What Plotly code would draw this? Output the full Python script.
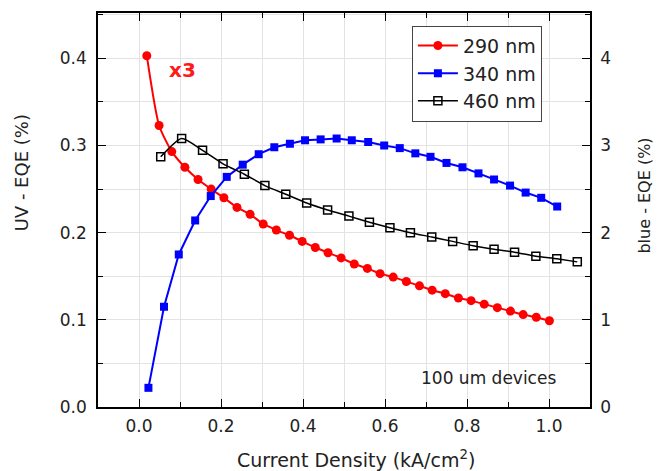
import plotly.graph_objects as go

# Current density (kA/cm^2) and EQE data for each emission line
j_290 = [0.019, 0.049, 0.080, 0.112, 0.144, 0.176, 0.207, 0.239, 0.271, 0.303,
         0.335, 0.367, 0.398, 0.430, 0.461, 0.493, 0.525, 0.557, 0.588, 0.620,
         0.652, 0.684, 0.715, 0.747, 0.779, 0.810, 0.842, 0.874, 0.906, 0.937,
         0.969, 1.001]
eqe_290 = [0.403, 0.323, 0.293, 0.275, 0.261, 0.250, 0.240, 0.229, 0.221, 0.210,
           0.203, 0.197, 0.190, 0.183, 0.177, 0.171, 0.164, 0.159, 0.153, 0.149,
           0.144, 0.139, 0.134, 0.130, 0.125, 0.122, 0.118, 0.114, 0.110, 0.106,
           0.103, 0.099]

j_340 = [0.023, 0.061, 0.097, 0.137, 0.175, 0.214, 0.253, 0.292, 0.330, 0.368,
         0.405, 0.443, 0.482, 0.519, 0.559, 0.598, 0.636, 0.674, 0.711, 0.750,
         0.789, 0.828, 0.866, 0.905, 0.943, 0.981, 1.020]
eqe_340 = [0.022, 0.115, 0.175, 0.214, 0.242, 0.264, 0.278, 0.290, 0.298, 0.302,
           0.306, 0.307, 0.308, 0.306, 0.304, 0.300, 0.297, 0.291, 0.287, 0.280,
           0.275, 0.268, 0.261, 0.254, 0.246, 0.240, 0.230]

j_460 = [0.053, 0.104, 0.155, 0.205, 0.257, 0.307, 0.358, 0.409, 0.460, 0.512,
         0.562, 0.612, 0.662, 0.714, 0.765, 0.815, 0.866, 0.916, 0.968, 1.019,
         1.069]
eqe_460 = [2.87, 3.08, 2.945, 2.79, 2.67, 2.54, 2.44, 2.34, 2.26, 2.19,
           2.12, 2.057, 2.00, 1.95, 1.90, 1.85, 1.81, 1.776, 1.73, 1.70,
           1.665]

FONT = "DejaVu Sans, Verdana, sans-serif"
TXT = "#222222"
GRID = "#e3e3e3"

fig = go.Figure()

fig.add_trace(go.Scatter(
    x=j_290, y=eqe_290, name="290 nm", mode="lines+markers",
    line=dict(color="#ff0000", width=2, shape="spline", smoothing=0.6),
    marker=dict(symbol="circle", size=9, color="#ff0000"),
))
fig.add_trace(go.Scatter(
    x=j_340, y=eqe_340, name="340 nm", mode="lines+markers",
    line=dict(color="#0000ff", width=2),
    marker=dict(symbol="square", size=8, color="#0000ff"),
))
fig.add_trace(go.Scatter(
    x=j_460, y=eqe_460, name="460 nm", mode="lines+markers", yaxis="y2",
    line=dict(color="#000000", width=1.5, shape="spline", smoothing=0.6),
    marker=dict(symbol="square-open", size=8, color="#000000",
                line=dict(width=1.5, color="#000000")),
))

# in-plot labels
fig.add_annotation(x=0.105, y=0.387, xref="x", yref="y", text="<b>x3</b>",
                   xanchor="center", yanchor="middle", showarrow=False,
                   font=dict(family=FONT, size=20, color="#ff1a1a"))
fig.add_annotation(x=0.853, y=0.033, xref="x", yref="y", text="100 um devices",
                   xanchor="center", yanchor="middle", showarrow=False,
                   font=dict(family=FONT, size=17, color=TXT))

# axis titles
fig.add_annotation(x=0.524, y=-0.131, xref="paper", yref="paper",
                   xanchor="center", yanchor="middle",
                   text="Current Density (kA/cm<sup>2</sup>)", showarrow=False,
                   font=dict(family=FONT, size=19, color=TXT))
fig.add_annotation(x=-0.155, y=0.595, xref="paper", yref="paper",
                   xanchor="center", yanchor="middle",
                   text="UV - EQE (%)", textangle=-90, showarrow=False,
                   font=dict(family=FONT, size=18, color=TXT))
fig.add_annotation(x=1.110, y=0.537, xref="paper", yref="paper",
                   xanchor="center", yanchor="middle",
                   text="blue - EQE (%)", textangle=-90, showarrow=False,
                   font=dict(family=FONT, size=16, color=TXT))

fig.update_layout(
    width=657, height=471,
    margin=dict(l=98, r=67, t=11, b=64),
    paper_bgcolor="white", plot_bgcolor="white",
    font=dict(family=FONT, size=17, color=TXT),
    showlegend=True,
    legend=dict(x=0.638, y=0.968, xanchor="left", yanchor="top",
                bgcolor="white", bordercolor="#444", borderwidth=1,
                font=dict(size=19, color=TXT), tracegroupgap=0,
                itemwidth=40),
    xaxis=dict(
        range=[-0.1, 1.1], dtick=0.2, tick0=0, tickformat=".1f",
        ticks="inside", ticklen=8, tickwidth=1.2, tickcolor="#000",
        ticklabelstandoff=3,
        showline=True, linecolor="#000", linewidth=1.5, mirror="ticks",
        showgrid=True, gridcolor=GRID, gridwidth=1, zeroline=False,
        minor=dict(dtick=0.1, tick0=0, ticks="inside", ticklen=5,
                   tickcolor="#000", showgrid=True, gridcolor=GRID),
    ),
    yaxis=dict(
        range=[0, 0.452], dtick=0.1, tick0=0, tickformat=".1f",
        ticks="inside", ticklen=8, tickwidth=1.2, tickcolor="#000",
        ticklabelstandoff=6,
        showline=True, linecolor="#000", linewidth=1.5,
        showgrid=True, gridcolor=GRID, zeroline=False,
        minor=dict(dtick=0.05, tick0=0, ticks="inside", ticklen=5,
                   tickcolor="#000", showgrid=True, gridcolor=GRID),
    ),
    yaxis2=dict(
        range=[0, 4.52], dtick=1, tick0=0, overlaying="y", side="right",
        ticks="inside", ticklen=8, tickwidth=1.2, tickcolor="#000",
        ticklabelstandoff=5,
        showline=True, linecolor="#000", linewidth=1.5,
        showgrid=False, zeroline=False,
        minor=dict(dtick=0.5, tick0=0, ticks="inside", ticklen=5,
                   tickcolor="#000", showgrid=False),
    ),
)

fig.write_html("out.html")
